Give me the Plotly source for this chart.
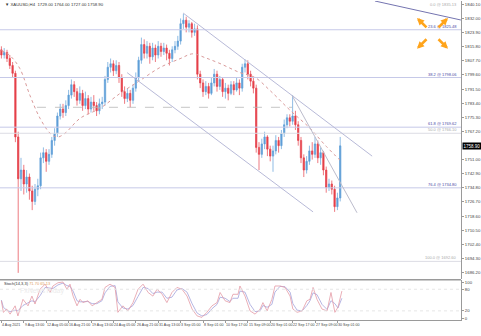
import plotly.graph_objects as go

# ---------------- data ----------------
first_open = 1814.0
closes = [1811, 1812.5, 1809, 1805, 1800.5, 1764, 1740, 1745, 1737, 1741,
          1733, 1727, 1734, 1736, 1752, 1755, 1750, 1754, 1762, 1766,
          1776, 1780, 1778, 1782, 1788, 1794, 1790, 1785, 1789, 1782,
          1786, 1780, 1784, 1782, 1779, 1783, 1784, 1797, 1804, 1806,
          1802, 1805, 1798, 1790, 1786, 1789, 1785, 1792, 1798, 1808,
          1817, 1812, 1816, 1810, 1815, 1811, 1816, 1813, 1815, 1812,
          1809, 1814, 1816, 1819, 1829, 1831, 1827, 1829, 1824, 1826,
          1800, 1795, 1790, 1793, 1789, 1795, 1800, 1793, 1797, 1790,
          1792, 1789, 1794, 1791, 1795, 1792, 1804, 1806, 1800, 1796,
          1792, 1758, 1754, 1760, 1764, 1757, 1753, 1756, 1762, 1759,
          1766, 1771, 1775, 1773, 1776, 1771, 1762, 1752, 1745, 1750,
          1756, 1754, 1760, 1752, 1755, 1745, 1735, 1737, 1734, 1724,
          1729, 1758.9]
highs = [1816, 1815, 1814, 1811, 1807, 1802, 1767, 1752, 1748, 1745,
         1743, 1736, 1737, 1740, 1755, 1758, 1757, 1757, 1764, 1769,
         1778, 1783, 1783, 1785, 1791, 1797, 1796, 1792, 1793, 1791,
         1790, 1788, 1787, 1788, 1784, 1786, 1787, 1799, 1807, 1809,
         1808, 1808, 1807, 1800, 1793, 1792, 1791, 1794, 1801, 1810,
         1821, 1820, 1819, 1818, 1818, 1817, 1819, 1818, 1818, 1817,
         1814, 1816, 1819, 1822, 1832, 1834.6, 1833, 1831, 1830, 1829,
         1828, 1802, 1797, 1796, 1795, 1798, 1803, 1802, 1799, 1798,
         1795, 1794, 1796, 1796, 1798, 1797, 1806, 1808.5, 1808, 1802,
         1798, 1794, 1761, 1763, 1767, 1765, 1759, 1759, 1765, 1764,
         1768, 1774, 1777, 1777, 1788, 1779, 1773, 1764, 1754, 1753,
         1759, 1761, 1764, 1762, 1758, 1756, 1747, 1740, 1739, 1736,
         1732, 1764]
lows = [1809, 1809, 1807, 1803, 1798, 1761, 1686, 1733, 1731, 1732,
        1728, 1722, 1725, 1730, 1734, 1749, 1744, 1748, 1752, 1759,
        1764, 1774, 1775, 1776, 1780, 1786, 1787, 1782, 1783, 1779,
        1780, 1777, 1778, 1779, 1776, 1777, 1780, 1782, 1795, 1801,
        1799, 1800, 1795, 1787, 1783, 1784, 1781, 1783, 1790, 1796,
        1806, 1809, 1809, 1806, 1808, 1807, 1809, 1810, 1811, 1808,
        1805, 1807, 1812, 1814, 1817, 1826, 1824, 1824, 1821, 1822,
        1797, 1792, 1787, 1788, 1786, 1788, 1793, 1790, 1791, 1787,
        1786, 1785, 1788, 1788, 1790, 1788, 1790, 1801, 1797, 1793,
        1789, 1755, 1745, 1752, 1757, 1753, 1750, 1744, 1754, 1755,
        1757, 1764, 1769, 1770, 1771, 1768, 1759, 1749, 1741, 1743,
        1748, 1751, 1752, 1749, 1748, 1742, 1732, 1733, 1731, 1721,
        1722, 1727]
opens = [first_open] + closes[:-1]
bar_idx = list(range(len(closes)))

# dotted moving average (read at knots)
ma_i = [0, 3.1, 6.6, 10.2, 13.8, 17.4, 19.9, 22.7, 28.1, 35.2, 42.4, 49.5,
        56.6, 63.8, 68.4, 72.7, 78.1, 85.2, 90.6, 95.9, 103.1, 110.2, 115.6, 120.9]
ma_v = [1813.5, 1810.6, 1803.2, 1787.8, 1774.7, 1766.1, 1763.9, 1766.1, 1774.7,
        1780.4, 1789.0, 1796.4, 1803.8, 1808.9, 1811.7, 1809.5, 1806.1, 1800.9,
        1798.1, 1790.7, 1779.3, 1769.0, 1759.3, 1750.7]

# stochastic
stoch_i = [0, 0.7, 1.9, 3.1, 4.9, 5.9, 7.7, 9.5, 10.9, 12, 13.8, 15.6, 17.4, 18.4,
           20.2, 22, 23.4, 24.5, 25.6, 27, 28.1, 29.1, 30.9, 32.4, 34.1, 35.9, 37,
           38.8, 40.6, 41.6, 43.4, 45.2, 47, 48.8, 50.6, 52.4, 54.1, 55.6, 57.4,
           59.1, 60.9, 62.7, 64.5, 66.3, 68.1, 69.9, 71.6, 73.4, 75.2, 77, 78.1,
           79.9, 81.6, 82.7, 84.5, 85.2, 87, 88.8, 90.6, 92.4, 93.4, 94.9, 96.6,
           97.7, 99.5, 101.3, 103.1, 104.1, 105.6, 107.4, 109.1, 110.2, 111.3,
           112.7, 114.5, 116.3, 117.7, 119.1, 120.2, 121.6]
stoch_k = [48, 16, 25, 11, 34, 6, 52, 34, 61, 39, 80, 94, 71, 89, 98, 100, 80, 94, 61, 34,
           52, 43, 48, 34, 43, 52, 85, 94, 85, 16, 34, 20, 43, 80, 94, 71, 61, 80, 66, 43,
           71, 85, 80, 61, 25, 6, 2, 16, 34, 43, 71, 48, 43, 66, 66, 89, 61, 20, 11, 25,
           43, 20, 52, 89, 89, 85, 61, 25, 16, 20, 48, 52, 85, 52, 25, 20, 71, 16, 30, 75]
stoch_d = [50, 30, 22, 18, 22, 20, 35, 42, 48, 45, 62, 85, 82, 82, 92, 97, 90, 88, 75, 48,
           45, 46, 46, 40, 40, 48, 70, 88, 90, 45, 28, 25, 35, 60, 85, 82, 68, 72, 72, 55,
           58, 78, 82, 72, 40, 14, 6, 10, 26, 38, 58, 55, 46, 55, 55, 75, 72, 38, 18, 20,
           35, 30, 38, 72, 88, 87, 72, 40, 22, 20, 35, 48, 70, 65, 38, 24, 48, 40, 28, 55]

# axis labels
y_ticks = [1840.10, 1832.00, 1823.90, 1815.80, 1807.70, 1799.60, 1791.50, 1783.40,
           1775.30, 1767.20, 1751.00, 1742.90, 1734.80, 1726.70, 1718.60, 1710.50,
           1702.40, 1694.30, 1686.20]
x_label_idx = [0, 8, 16, 24, 32, 40, 48, 56, 64, 72, 80, 88, 96, 104, 112, 120]
x_labels = ["4 Aug 2021", "9 Aug 13:00", "12 Aug 05:00", "16 Aug 21:00", "19 Aug 13:00",
            "24 Aug 05:00", "26 Aug 21:00", "31 Aug 13:00", "3 Sep 05:00", "8 Sep 01:00",
            "10 Sep 17:00", "15 Sep 09:00", "20 Sep 01:00", "22 Sep 17:00",
            "27 Sep 09:00", "30 Sep 01:00"]

# fibonacci / horizontal levels
fib_prices = [1838.0, 1825.5, 1798.1, 1769.6, 1766.1, 1734.8, 1692.6]
fib_labels = ["0.0 @ 1835.13", "23.6 @ 1825.48", "38.2 @ 1798.06", "61.8 @ 1769.62",
              "50.0 @ 1766.10", "76.4 @ 1734.80", "100.0 @ 1692.60"]
fib_blue = [False, True, True, True, False, True, False]
fib_line = [False, True, True, True, True, True, True]
dashed_level = [12.7, 103.8, 1781.0]

# trend lines (bar index, price)
channel_upper = [(64.9, 1835.1), (132.4, 1753.0)]
channel_lower = [(44.9, 1800.9), (111.3, 1721.0)]
steep_line = [(103.8, 1787.8), (127.0, 1720.5)]
top_line = [(133.4, 1842.0), (164.1, 1831.1)]

# ---------------- layout geometry ----------------
W, H = 481, 336
PLOT_R = 461
X_RANGE = [-0.5, 164.14]
Y_RANGE = [1682.3, 1842.0]
ST_RANGE = [-5.5, 104.7]
BULL = "#5f9fd8"
BEAR = "#e5414a"
FONT = "Liberation Sans"


def py(p):
    return 1 - p / H


fig = go.Figure()
fig.add_trace(go.Candlestick(
    x=bar_idx, open=opens, high=highs, low=lows, close=closes,
    increasing=dict(line=dict(color=BULL, width=0.7), fillcolor=BULL),
    decreasing=dict(line=dict(color=BEAR, width=0.7), fillcolor=BEAR),
    whiskerwidth=0, showlegend=False, hoverinfo="skip", xaxis="x", yaxis="y"))
fig.add_trace(go.Scatter(x=ma_i, y=ma_v, mode="lines", line=dict(color="#d99a9a", width=1, dash="dot", shape="spline"),
                         showlegend=False, hoverinfo="skip", xaxis="x", yaxis="y"))
fig.add_trace(go.Scatter(x=stoch_i, y=stoch_d, mode="lines", line=dict(color="#a3a3dc", width=0.8),
                         showlegend=False, hoverinfo="skip", xaxis="x", yaxis="y2"))
fig.add_trace(go.Scatter(x=stoch_i, y=stoch_k, mode="lines", line=dict(color="#e59aa6", width=0.8),
                         showlegend=False, hoverinfo="skip", xaxis="x", yaxis="y2"))

shapes = []
for p, show, blue in zip(fib_prices, fib_line, fib_blue):
    if show:
        shapes.append(dict(type="line", xref="x domain", yref="y", x0=0, x1=1, y0=p, y1=p,
                           line=dict(color="#c6c9e8" if blue else "#dcdce4", width=1)))
shapes.append(dict(type="line", xref="x", yref="y", x0=dashed_level[0], x1=dashed_level[1],
                   y0=dashed_level[2], y1=dashed_level[2], line=dict(color="#b8b8b8", width=0.8, dash="dash")))
for ln, col in [(channel_upper, "#b8bad8"), (channel_lower, "#b8bad8"), (steep_line, "#bcbccc"), (top_line, "#7474b0")]:
    shapes.append(dict(type="line", xref="x", yref="y", x0=ln[0][0], y0=ln[0][1], x1=ln[1][0], y1=ln[1][1],
                       line=dict(color=col, width=1)))
for lv in [20, 80]:
    shapes.append(dict(type="line", xref="x domain", yref="y2", x0=0, x1=1, y0=lv, y1=lv,
                       line=dict(color="#e6e6e6", width=1, dash="dot")))
# panel separator
shapes.append(dict(type="line", xref="paper", yref="paper", x0=0, x1=PLOT_R / W, y0=py(280.5), y1=py(280.5),
                   line=dict(color="#9a9a9a", width=1.5)))

ann = []
ann.append(dict(xref="paper", yref="paper", x=3 / W, y=py(4), xanchor="left", yanchor="middle",
                text="▼ XAUUSD,H4  %.2f %.2f %.2f %.2f" % (opens[-1], highs[-1], lows[-1], closes[-1]),
                showarrow=False, font=dict(size=4.3, color="#333", family=FONT)))
for i, t in zip(x_label_idx, x_labels):
    ann.append(dict(xref="x", yref="paper", x=i - 0.4, y=py(325.5), xanchor="left", yanchor="middle",
                    text=t, showarrow=False, font=dict(size=3.6, color="#444", family=FONT)))
for p, t, blue in zip(fib_prices, fib_labels, fib_blue):
    ann.append(dict(xref="x domain", yref="y", x=459 / PLOT_R, y=p, xanchor="right", yanchor="bottom",
                    text=t, showarrow=False, yshift=-1,
                    font=dict(size=4.0, color="#4a4aa6" if blue else "#aaaaaa", family=FONT)))
ann.append(dict(xref="paper", yref="y", x=462 / W, y=closes[-1], xanchor="left", yanchor="middle",
                text="%.2f" % closes[-1], showarrow=False, bgcolor="#000000", borderpad=0.5,
                font=dict(size=4.5, color="#ffffff", family=FONT)))
ann.append(dict(xref="paper", yref="paper", x=2 / W, y=py(284), xanchor="left", yanchor="middle",
                text="Stoch(14,3,3) <span style='color:#e0a060'>71.70 65.13</span>", showarrow=False,
                font=dict(size=4.0, color="#333", family=FONT)))
ann.append(dict(xref="paper", yref="paper", x=18 / W, y=py(292), xanchor="left", yanchor="middle",
                text="FxNewsToday", showarrow=False, font=dict(size=7, color="#ececec", family=FONT)))
# orange expand icon
for tip, tail in [((417, 17), (11, 11)), ((448, 17), (-11, 11)), ((417, 48), (11, -11)), ((448, 48), (-11, -11))]:
    ann.append(dict(xref="paper", yref="paper", x=tip[0] / W, y=py(tip[1]), ax=tail[0], ay=tail[1],
                    text="", showarrow=True, arrowhead=2, arrowsize=0.55, arrowwidth=2.6, arrowcolor="#ffa41b"))

fig.update_layout(
    width=W, height=H, margin=dict(l=0, r=0, t=0, b=0),
    paper_bgcolor="white", plot_bgcolor="white",
    font=dict(family=FONT, size=5, color="#444"),
    shapes=shapes, annotations=ann, showlegend=False,
    xaxis=dict(domain=[0, PLOT_R / W], range=X_RANGE, anchor="y2", showgrid=False, zeroline=False,
               showline=True, linecolor="#9a9a9a", linewidth=1, ticks="outside", ticklen=2,
               tickcolor="#9a9a9a", tickvals=x_label_idx, showticklabels=False,
               rangeslider=dict(visible=False)),
    yaxis=dict(domain=[py(280), 1], range=Y_RANGE, side="right", anchor="x", showgrid=False,
               zeroline=False, showline=True, linecolor="#9a9a9a", linewidth=1, ticks="outside",
               ticklen=2, tickcolor="#9a9a9a", tickvals=y_ticks, ticktext=["%.2f" % v for v in y_ticks],
               tickfont=dict(size=4.3, color="#444", family=FONT)),
    yaxis2=dict(domain=[py(321), py(281)], range=ST_RANGE, side="right", anchor="x", showgrid=False,
                zeroline=False, showline=True, linecolor="#9a9a9a", linewidth=1, ticks="outside",
                ticklen=2, tickcolor="#9a9a9a", tickvals=[0, 20, 80, 100],
                tickfont=dict(size=4.3, color="#444", family=FONT)),
)

fig.write_html("out.html")
